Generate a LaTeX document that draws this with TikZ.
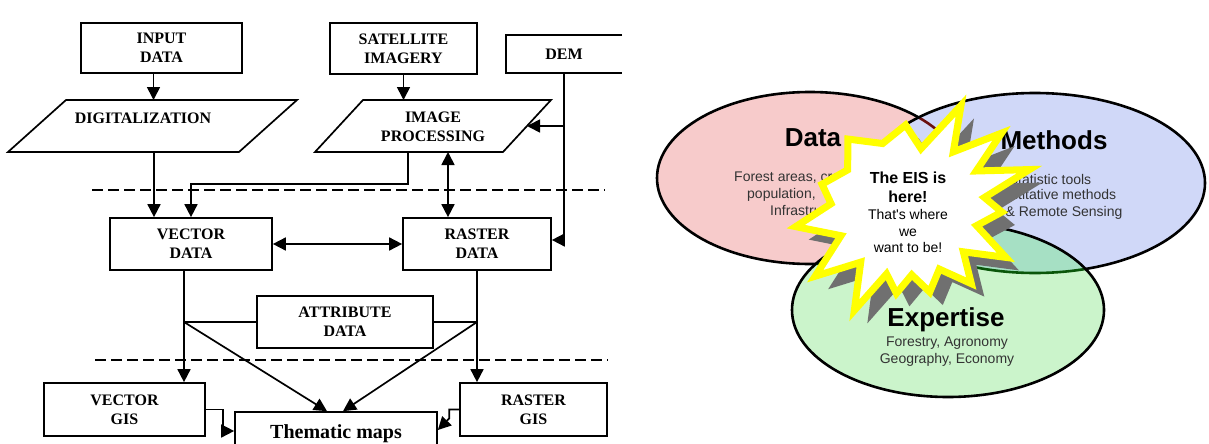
\documentclass[tikz,border=0pt]{standalone}
\usepackage{fontspec}
\setmainfont{Liberation Serif}
\newfontfamily\arialf{Liberation Sans}
\usetikzlibrary{arrows.meta,calc}
\definecolor{redf}{HTML}{F7CBCB}
\definecolor{bluef}{HTML}{D0D8F8}
\definecolor{greenf}{HTML}{CBF4CB}
\definecolor{tealf}{HTML}{A6E0C4}
\definecolor{darkr}{HTML}{6A1010}
\definecolor{darkg}{HTML}{0A560A}
\definecolor{shadowc}{HTML}{707070}
\definecolor{staryel}{HTML}{FFFF00}
\tikzset{
  lbl/.style={font=\bfseries\fontsize{16}{19}\selectfont, align=center, inner sep=0pt},
  bx/.style={draw, line width=1.7pt, inner sep=0pt, lbl},
  frame/.style={inner sep=0pt, outer sep=0pt},
  ln/.style={line width=1.7pt},
  arr/.style={line width=1.7pt, -{Triangle[length=13pt,width=13pt]}},
  dbl/.style={line width=1.7pt, {Triangle[length=13pt,width=13pt]}-{Triangle[length=13pt,width=13pt]}},
  dsh/.style={line width=1.5pt, dash pattern=on 11pt off 5pt},
  ttl/.style={font=\arialf\bfseries\fontsize{26}{28}\selectfont, inner sep=0pt},
  sub/.style={font=\arialf\fontsize{14}{17}\selectfont, text=black!80, inner sep=0pt, align=center},
  ell/.style={line width=2.6pt},
}
\begin{document}
\begin{tikzpicture}[x=1pt,y=1pt]
\useasboundingbox (0,0) rectangle (1209,-444);
% ---------------- left flow chart ----------------
\coordinate (d1a) at (92,-190);
\coordinate (d1b) at (605,-190);
\coordinate (d2a) at (95,-360);
\coordinate (d2b) at (608,-360);
\draw[dsh] (d1a) -- (d1b);
\draw[dsh] (d2a) -- (d2b);

\node[bx, minimum width=161pt, minimum height=50pt] (input) at (161.5,-48) {INPUT\\DATA};
\node[bx, minimum width=147pt, minimum height=51pt] (sat) at (403.5,-48.5) {SATELLITE\\IMAGERY};
\node[lbl, frame, minimum width=116pt, minimum height=38pt] (dem) at (564,-54) {DEM};
\draw[ln] (dem.north east) -- (dem.north west) -- (dem.south west) -- (dem.south east);

\node[frame, minimum width=289pt, minimum height=52pt] (dig) at (152.5,-126) {};
\draw[ln] (dig.south west) -- ([xshift=58pt]dig.north west) -- (dig.north east) -- ([xshift=-58pt]dig.south east) -- cycle;
\node[lbl] (digt) at (143,-118) {DIGITALIZATION};

\node[frame, minimum width=236pt, minimum height=52pt] (ip) at (433,-126) {};
\draw[ln] (ip.south west) -- ([xshift=48pt]ip.north west) -- (ip.north east) -- ([xshift=-48pt]ip.south east) -- cycle;
\node[lbl] (ipt) at (433,-127) {IMAGE\\PROCESSING};
\coordinate (ipr) at ($(ip.north east)!0.5!([xshift=-48pt]ip.south east)$);

\node[bx, minimum width=162pt, minimum height=52pt] (vec) at (191,-244) {VECTOR\\DATA};
\node[bx, minimum width=148pt, minimum height=52pt] (ras) at (477,-244) {RASTER\\DATA};
\node[bx, minimum width=176pt, minimum height=52pt] (attr) at (345,-322) {ATTRIBUTE\\DATA};
\node[bx, minimum width=161pt, minimum height=53pt] (vgis) at (124.5,-409.5) {VECTOR\\GIS};
\node[bx, minimum width=147pt, minimum height=53pt] (rgis) at (533.5,-409.5) {RASTER\\GIS};
\node[bx, minimum width=202pt, minimum height=44pt, font=\bfseries\fontsize{20}{24}\selectfont] (tm) at (336,-434) {Thematic maps};

\draw[arr] ([xshift=-8pt]input.south) -- ([xshift=-8pt]input.south |- dig.north);
\draw[arr] (sat.south) -- (sat.south |- ip.north);
\draw[arr] (dem.south |- ipr) -- (ipr);
\draw[arr] (dem.south) |- ([yshift=4pt]ras.east);
\draw[arr] ([xshift=-37pt]vec.north |- dig.south) -- ([xshift=-37pt]vec.north);
\draw[arr] ([xshift=-25pt]ip.south) -- ++(0,-32) -| (vec.north);
\draw[dbl] ([xshift=15pt]ip.south) -- ([xshift=15pt]ip.south |- ras.north);
\draw[dbl] (vec.east) -- (ras.west);

\coordinate (jv) at ([xshift=-7pt]vec.south |- attr.west);
\coordinate (jr) at (ras.south |- attr.east);
\draw[ln] ([xshift=-7pt]vec.south) -- (jv) -- (attr.west);
\draw[arr] (jv) -- (jv |- vgis.north);
\draw[ln] (ras.south) -- (jr) -- (attr.east);
\draw[arr] (jr) -- (jr |- rgis.north);
\draw[arr] (jv) -- ([xshift=-9pt]tm.north);
\draw[arr] (jr) -- ([xshift=7pt]tm.north);
\draw[arr] (vgis.east) -- ++(17,0) |- ([yshift=3pt]tm.west);
\draw[arr] (rgis.west) -- ++(-10,0) -- ++(0,-9) -- ([yshift=4pt]tm.east);

% ---------------- right Venn diagram ----------------
\coordinate (cD) at (810,-178);
\coordinate (cM) at (1035,-183);
\coordinate (cE) at (948,-310);
\fill[redf] (cD) ellipse [x radius=153pt, y radius=86pt];
\draw[ell] (cD) ellipse [x radius=153pt, y radius=86pt];
\fill[bluef] (cM) ellipse [x radius=170pt, y radius=90pt];
\begin{scope}
  \clip (cM) ellipse [x radius=170pt, y radius=90pt];
  \draw[ell, darkr] (cD) ellipse [x radius=153pt, y radius=86pt];
\end{scope}
\draw[ell] (cM) ellipse [x radius=170pt, y radius=90pt];
\fill[greenf] (cE) ellipse [x radius=156pt, y radius=87pt];
\begin{scope}
  \clip (cE) ellipse [x radius=156pt, y radius=87pt];
  \fill[tealf] (cM) ellipse [x radius=170pt, y radius=90pt];
  \draw[ell, darkg] (cM) ellipse [x radius=170pt, y radius=90pt];
  \draw[ell, darkg] (cD) ellipse [x radius=153pt, y radius=86pt];
\end{scope}
\draw[ell] (cE) ellipse [x radius=156pt, y radius=87pt];

\node[ttl] (tD) at (813,-138) {Data};
\node[ttl] (tM) at (1054,-140) {Methods};
\node[ttl] (tE) at (946,-320) {Expertise};
\node[sub, anchor=west] (sD1) at (734,-178) {Forest areas, crops};
\node[sub, anchor=west] (sD2) at (747,-195) {population,};
\node[sub, anchor=west] (sD3) at (770,-211) {Infrastructure};
\node[sub] (sM1) at (1050,-179) {Statistic tools};
\node[sub] (sM2) at (1050,-196) {Quantitative methods};
\node[sub] (sM3) at (1050,-213) {GIS \& Remote Sensing};
\node[sub] (sE1) at (947,-343) {Forestry, Agronomy};
\node[sub] (sE2) at (947,-360) {Geography, Economy};

% star burst
\def\starpath{(91:82) -- (76.5:60) -- (62:115) -- (50:72) -- (38:120) -- (27.5:78) -- (17:128) -- (7:78) -- (-3:95) -- (-15:72) -- (-27:111) -- (-38.5:72) -- (-50:100) -- (-62.5:70) -- (-75:88) -- (-86:68) -- (-97:87) -- (-107:70) -- (-117:116) -- (-130:72) -- (-143:115) -- (-156.5:72) -- (-170:113) -- (177.5:76) -- (165:88) -- (148:70) -- (131:90) -- (111:68) -- cycle}
\begin{scope}[shift={(920,-220)}]
  \fill[shadowc] \starpath;
\end{scope}
\begin{scope}[shift={(907,-207)}]
  \filldraw[fill=white, draw=staryel, line width=7pt, line join=miter] \starpath;
\end{scope}
\node[font=\arialf\bfseries\fontsize{16}{19}\selectfont, align=center, inner sep=0pt] (s1) at (908,-187) {The EIS is\\here!};
\node[font=\arialf\fontsize{14}{16.5}\selectfont, align=center, inner sep=0pt] (s2) at (908,-231) {That's where\\we\\want to be!};
\end{tikzpicture}
\end{document}
